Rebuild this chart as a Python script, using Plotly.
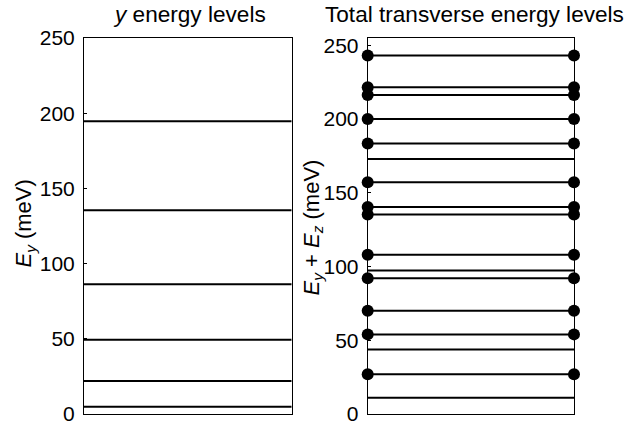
import plotly.graph_objects as go

# ---- data (meV) ----
ey_levels = [4.9, 22.0, 49.3, 86.2, 135.5, 194.7]
total_levels = [11.0, 26.9, 43.7, 54.0, 70.1, 92.1, 97.4, 108.0, 135.3,
                140.4, 157.1, 173.0, 183.4, 200.1, 216.3, 221.6, 243.1]
total_degenerate = [False, True, False, True, True, True, False, True, True,
                    True, True, False, True, True, True, True, True]
y_ticks = [0, 50, 100, 150, 200, 250]
left_title = "<i>y</i> energy levels"
right_title = "Total transverse energy levels"
left_ylabel = "<i>E</i><sub><i>y</i></sub> (meV)"
right_ylabel = "<i>E</i><sub><i>y</i></sub> + <i>E</i><sub><i>z</i></sub> (meV)"

FONT = "Liberation Sans, Arial, Helvetica, sans-serif"


def level_xy(levels):
    xs, ys = [], []
    for v in levels:
        xs += [0, 1, None]
        ys += [v, v, None]
    return xs, ys


fig = go.Figure()

lx, ly = level_xy(ey_levels)
fig.add_trace(go.Scatter(x=lx, y=ly, mode="lines",
                         line=dict(color="black", width=2),
                         xaxis="x", yaxis="y", showlegend=False,
                         hoverinfo="skip"))

tx, ty = level_xy(total_levels)
fig.add_trace(go.Scatter(x=tx, y=ty, mode="lines",
                         line=dict(color="black", width=2),
                         xaxis="x2", yaxis="y2", showlegend=False,
                         hoverinfo="skip"))

mx, my = [], []
for v, d in zip(total_levels, total_degenerate):
    if d:
        mx += [0, 1]
        my += [v, v]
fig.add_trace(go.Scatter(x=mx, y=my, mode="markers",
                         marker=dict(color="black", size=12),
                         cliponaxis=False,
                         xaxis="x2", yaxis="y2", showlegend=False,
                         hoverinfo="skip"))

W, H = 643, 437
L, R, T, B = 84, 69, 38, 14
pw = W - L - R
ph = H - T - B

ax_common = dict(showline=True, linecolor="black", linewidth=1, mirror=True,
                 showgrid=False, zeroline=False)
xcommon = dict(ax_common, range=[0, 1], showticklabels=False, ticks="")
ycommon = dict(ax_common, ticks="inside", ticklen=3, tickcolor="black",
               tickvals=y_ticks, ticktext=[str(t) for t in y_ticks],
               tickfont=dict(family=FONT, size=21, color="black"),
               ticklabelstandoff=4)

x1_end = (291.7 - L) / pw
x2_start = (367.7 - L) / pw

fig.update_layout(
    width=W, height=H,
    margin=dict(l=L, r=R, t=T, b=B),
    paper_bgcolor="white", plot_bgcolor="white",
    font=dict(family=FONT, size=21, color="black"),
    xaxis=dict(xcommon, domain=[0, x1_end], anchor="y"),
    yaxis=dict(ycommon, range=[0, 250], anchor="x"),
    xaxis2=dict(xcommon, domain=[x2_start, 1], anchor="y2"),
    yaxis2=dict(ycommon, range=[0, 255], anchor="x2"),
)

title_y = 1 + (T - 14) / ph
annos = [
    dict(text=left_title, x=(189 - L) / pw, y=title_y),
    dict(text=right_title, x=(474 - L) / pw, y=title_y),
]
for a in annos:
    fig.add_annotation(xref="paper", yref="paper", showarrow=False,
                       xanchor="center", yanchor="middle",
                       font=dict(family=FONT, size=22.6, color="black"), **a)

for text, xc, yc in [(left_ylabel, 25, 228), (right_ylabel, 313, 232)]:
    fig.add_annotation(xref="paper", yref="paper", showarrow=False,
                       text=text, textangle=-90,
                       x=(xc - L) / pw, y=1 - (yc - T) / ph,
                       xanchor="center", yanchor="middle",
                       font=dict(family=FONT, size=22, color="black"))

fig.write_html("out.html")
